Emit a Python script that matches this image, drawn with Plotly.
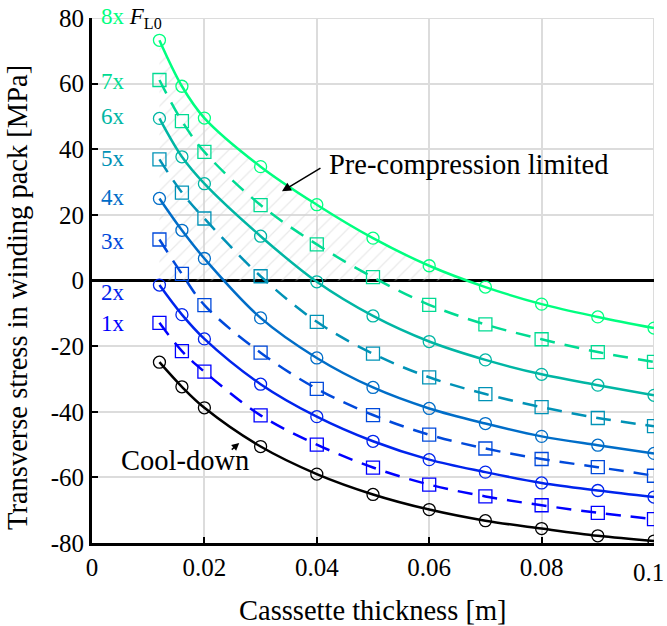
import numpy as np
import plotly.graph_objects as go

thickness = [0.012, 0.016, 0.02, 0.03, 0.04, 0.05, 0.06, 0.07, 0.08, 0.09, 0.1]

stress_8x = [73.2, 59.2, 49.5, 34.7, 23.1, 12.9, 4.5, -2.0, -7.2, -11.1, -14.5]
stress_7x = [61.1, 48.6, 39.2, 23.0, 11.0, 1.0, -7.4, -13.4, -17.9, -21.8, -24.8]
stress_6x = [49.4, 37.7, 29.5, 13.5, -0.4, -10.8, -18.6, -24.2, -28.6, -31.9, -35.0]
stress_5x = [36.9, 26.8, 18.9, 1.3, -12.6, -22.3, -29.5, -34.6, -38.6, -41.9, -44.4]
stress_4x = [25.0, 15.3, 6.7, -11.4, -23.6, -32.6, -39.0, -43.6, -47.5, -50.2, -52.7]
stress_3x = [12.5, 2.0, -7.5, -22.0, -33.0, -41.0, -47.0, -51.2, -54.4, -56.9, -59.5]
stress_2x = [-1.4, -10.4, -17.8, -31.6, -41.5, -49.0, -54.6, -58.4, -61.7, -64.0, -66.0]
stress_1x = [-12.9, -21.5, -27.8, -41.1, -50.0, -57.0, -62.2, -65.8, -68.5, -70.8, -72.7]
stress_cool = [-24.9, -32.4, -38.8, -50.6, -59.0, -65.2, -69.8, -73.2, -75.6, -77.8, -79.4]

series_names = ["1x", "2x", "3x", "4x", "5x", "6x", "7x", "8x"]
series_values = [stress_1x, stress_2x, stress_3x, stress_4x, stress_5x, stress_6x, stress_7x, stress_8x]
# label anchor heights (data units) for the left-side labels
label_y = [-13.0, -3.8, 11.9, 25.2, 37.3, 50.0, 60.8, 80.0]

x_ticks = [0, 0.02, 0.04, 0.06, 0.08, 0.1]
x_tick_text = ["0", "0.02", "0.04", "0.06", "0.08", "0.1"]
y_ticks = [-80, -60, -40, -20, 0, 20, 40, 60, 80]
y_tick_text = ["-80", "-60", "-40", "-20", "0", "20", "40", "60", "80"]


def winter(t):
    g = int(round(255 * t))
    b = int(round(255 * (1 - 0.5 * t)))
    return f"rgb(0,{g},{b})"


colors = [winter(i / 7) for i in range(8)]

FONT = "Liberation Serif, Times New Roman, serif"
GRID = "#dcdcdc"

fig = go.Figure()

# hatched pre-compression limited region (between 8x curve and zero)
xa = np.array(thickness)
ya = np.array(stress_8x)
pos = ya > 0
idx = np.where(~pos)[0][0]
x_cross = xa[idx - 1] + (0 - ya[idx - 1]) * (xa[idx] - xa[idx - 1]) / (ya[idx] - ya[idx - 1])
hx = list(xa[pos]) + [x_cross]
hy = list(ya[pos]) + [0.0]
fig.add_trace(go.Scatter(
    x=hx, y=hy, mode="lines", line=dict(width=0, shape="spline"),
    fill="tozeroy", fillcolor="rgba(0,0,0,0)",
    fillpattern=dict(shape="/", fgcolor="#d4d4d4", bgcolor="rgba(0,0,0,0)", size=10, solidity=0.12),
    hoverinfo="skip", showlegend=False,
))

# cool-down
fig.add_trace(go.Scatter(
    x=thickness, y=stress_cool, mode="lines+markers",
    line=dict(color="black", width=2.5, shape="spline"),
    marker=dict(symbol="circle-open", size=12, color="black", line=dict(width=1.3)),
    showlegend=False,
))

for i, (name, vals) in enumerate(zip(series_names, series_values)):
    solid = (i % 2 == 1)
    fig.add_trace(go.Scatter(
        x=thickness, y=vals, mode="lines+markers", name=name,
        line=dict(color=colors[i], width=2.5, shape="spline",
                  dash="solid" if solid else "15px,10px"),
        marker=dict(symbol="circle-open" if solid else "square-open",
                    size=12 if solid else 13, color=colors[i], line=dict(width=1.3)),
        showlegend=False,
    ))

annotations = []
for i, name in enumerate(series_names):
    txt = name
    if name == "8x":
        txt = "8x <span style='color:black'><i>F</i><sub>L0</sub></span>"
    annotations.append(dict(
        x=0.00125, y=label_y[i], xref="x", yref="y", text=txt, showarrow=False,
        xanchor="left", yanchor="middle", font=dict(family=FONT, size=23, color=colors[i]),
    ))

annotations.append(dict(
    x=0.0338, y=27.2, xref="x", yref="y", ax=40, ay=-24, text="", showarrow=True,
    arrowhead=2, arrowsize=1.2, arrowwidth=1.5, arrowcolor="black",
))
annotations.append(dict(
    x=0.0419, y=35.4, xref="x", yref="y", text="Pre-compression limited", showarrow=False,
    xanchor="left", yanchor="middle", font=dict(family=FONT, size=28.5, color="black"),
))
annotations.append(dict(
    x=0.0262, y=-49.5, xref="x", yref="y", ax=-9, ay=8, text="", showarrow=True,
    arrowhead=2, arrowsize=1.0, arrowwidth=1.5, arrowcolor="black",
))
annotations.append(dict(
    x=0.0165, y=-55.0, xref="x", yref="y", text="Cool-down", showarrow=False,
    xanchor="center", yanchor="middle", font=dict(family=FONT, size=28.5, color="black"),
))
# last x tick label, kept inside the page at the right edge
annotations.append(dict(
    x=(666 - 92) / 562, y=(543 - 572) / 525, xref="paper", yref="paper",
    text=x_tick_text[-1], showarrow=False,
    xanchor="right", yanchor="middle", font=dict(family=FONT, size=25, color="black"),
))
# axis titles
annotations.append(dict(
    x=(17 - 92) / 562, y=(543 - 298) / 525, xref="paper", yref="paper",
    text="Transverse stress in winding pack [MPa]", textangle=-90, showarrow=False,
    xanchor="center", yanchor="middle", font=dict(family=FONT, size=28.5, color="black"),
))
annotations.append(dict(
    x=0.5, y=(543 - 610) / 525, xref="paper", yref="paper",
    text="Casssette thickness [m]", showarrow=False,
    xanchor="center", yanchor="middle", font=dict(family=FONT, size=28.5, color="black"),
))

# grid lines at the far edges (plotly hides those at range ends)
shapes = [
    dict(type="line", xref="x", yref="paper", x0=x_ticks[-1], x1=x_ticks[-1], y0=0, y1=1,
         line=dict(color=GRID, width=2), layer="below"),
    dict(type="line", xref="paper", yref="y", x0=0, x1=1, y0=y_ticks[-1], y1=y_ticks[-1],
         line=dict(color=GRID, width=2), layer="below"),
]

fig.update_layout(
    width=667, height=626,
    margin=dict(l=92, r=13, t=18, b=83, autoexpand=False),
    paper_bgcolor="white", plot_bgcolor="white",
    font=dict(family=FONT, size=25, color="black"),
    annotations=annotations, shapes=shapes,
    showlegend=False,
)
fig.update_xaxes(
    range=[0, 0.1], tickvals=x_ticks, ticktext=x_tick_text[:-1] + [""], automargin=False,
    ticklabeloverflow="allow",
    showgrid=True, gridcolor=GRID, gridwidth=2,
    showline=True, linecolor="black", linewidth=3,
    ticks="inside", ticklen=6, tickwidth=2, tickcolor="black",
    zeroline=False, tickfont=dict(family=FONT, size=25, color="black"),
)
fig.update_yaxes(
    range=[-80, 80], tickvals=y_ticks, ticktext=y_tick_text, automargin=False,
    ticklabeloverflow="allow",
    showgrid=True, gridcolor=GRID, gridwidth=2,
    showline=True, linecolor="black", linewidth=3,
    ticks="inside", ticklen=6, tickwidth=2, tickcolor="black",
    zeroline=True, zerolinecolor="black", zerolinewidth=3,
    tickfont=dict(family=FONT, size=25, color="black"),
)

fig.write_html("out.html", config={"displayModeBar": False},
               post_script="document.body.style.margin='0';document.body.style.overflow='hidden';")
